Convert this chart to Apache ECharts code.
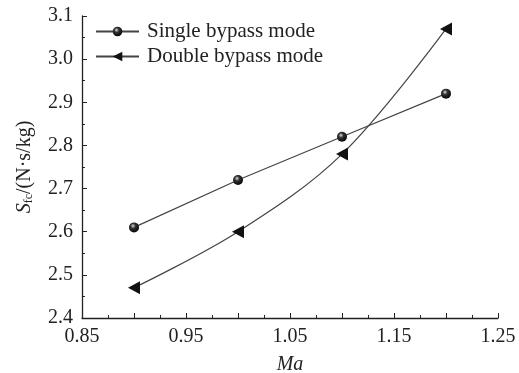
<!DOCTYPE html>
<html><head><meta charset="utf-8">
<script src="https://cdn.jsdelivr.net/npm/echarts@6/dist/echarts.min.js"></script>
<style>html,body{margin:0;padding:0;background:#fff}#c{width:519px;height:373px}</style>
</head><body><div id="c"></div>
<script>
const machNumbers = [0.9, 1.0, 1.1, 1.2];
const singleBypass = [2.61, 2.72, 2.82, 2.92];
const doubleBypass = [2.47, 2.60, 2.78, 3.07];
const seriesNames = ['Single bypass mode', 'Double bypass mode'];
const xName = 'Ma';

const font = 'Liberation Serif';
const ink = '#222';
const sphere = {type:'radial', x:0.4, y:0.35, r:0.7, colorStops:[{offset:0,color:'#ddd'},{offset:0.35,color:'#333'},{offset:1,color:'#000'}]};

const chart = echarts.init(document.getElementById('c'));
chart.setOption({
  animation:false,
  backgroundColor:'#fff',
  grid:{left:82, right:21, top:16, bottom:55, containLabel:false, outerBoundsMode:'none'},
  legend:{
    orient:'vertical', left:90, top:16, itemWidth:43, itemHeight:12, itemGap:4,
    textStyle:{fontFamily:font, fontSize:21, color:ink, padding:[0,0,0,3]},
    data: seriesNames
  },
  xAxis:{
    type:'value', min:0.85, max:1.25, interval:0.05,
    name:xName, nameLocation:'middle', nameGap:37,
    nameTextStyle:{fontFamily:font, fontSize:20, fontStyle:'italic', color:ink},
    axisLine:{show:true, lineStyle:{color:ink, width:1.3}},
    axisTick:{show:true, inside:true, length:5, lineStyle:{color:ink}},
    minorTick:{show:true, splitNumber:2, length:3, lineStyle:{color:ink}},
    splitLine:{show:false},
    axisLabel:{fontFamily:font, fontSize:20, color:ink, margin:9,
      formatter:v=>{const k=Math.round(v*100); return (k%10===5)? v.toFixed(2):'';}}
  },
  yAxis:{
    type:'value', min:2.4, max:3.1, interval:0.1,
    name:'{i|S}{sub|fc}{n|/(N·s/kg)}', nameLocation:'middle', nameGap:47, nameRotate:90,
    nameTextStyle:{fontFamily:font, fontSize:20, color:ink,
      rich:{i:{fontFamily:font,fontSize:20,fontStyle:'italic',color:ink},
            sub:{fontFamily:font,fontSize:12,color:ink,verticalAlign:'bottom',padding:[9,0,0,0]},
            n:{fontFamily:font,fontSize:20,color:ink}}},
    axisLine:{show:true, lineStyle:{color:ink, width:1.3}},
    axisTick:{show:true, inside:true, length:5, lineStyle:{color:ink}},
    minorTick:{show:true, splitNumber:2, length:3, lineStyle:{color:ink}},
    splitLine:{show:false},
    axisLabel:{fontFamily:font, fontSize:20, color:ink, margin:9, formatter:v=>v.toFixed(1)}
  },
  series:[
    {name:seriesNames[0], type:'line', data:machNumbers.map((x,i)=>[x,singleBypass[i]]),
     symbol:'circle', symbolSize:10, itemStyle:{color:sphere, borderWidth:0},
     lineStyle:{color:'#444', width:1.2}},
    {name:seriesNames[1], type:'line', smooth:0.35, data:machNumbers.map((x,i)=>[x,doubleBypass[i]]),
     symbol:'triangle', symbolRotate:90, symbolSize:[13,12], itemStyle:{color:'#111'},
     lineStyle:{color:'#444', width:1.2}}
  ]
});
</script></body></html>
